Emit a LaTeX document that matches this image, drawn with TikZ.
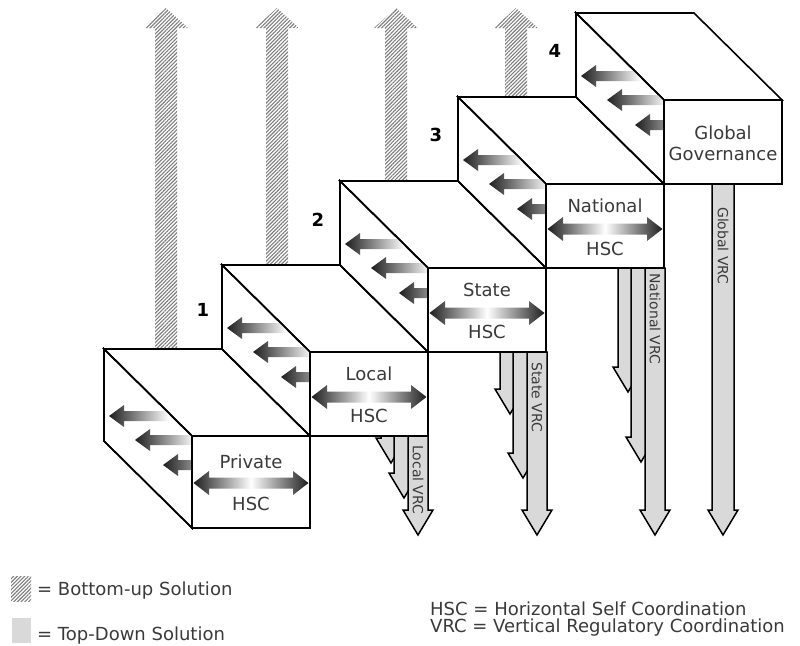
\documentclass[tikz,border=0pt]{standalone}
\usepackage{fontspec}
\setmainfont{DejaVu Sans}
\usetikzlibrary{patterns.meta}
\definecolor{vrcfill}{RGB}{217,217,217}
\definecolor{labelgray}{RGB}{58,58,58}
\definecolor{hatchgray}{RGB}{125,125,125}
\begin{document}
\begin{tikzpicture}[x=1pt,y=-1pt,line join=miter]
\tikzset{
 boxface/.style={fill=white,draw=black,line width=1.6pt},
 boxline/.style={draw=black,line width=1.6pt},
 hatcharrow/.style={pattern={Lines[angle=45,distance=2.6pt,line width=1.1pt]},pattern color=hatchgray},
 vrcarrow/.style={fill=vrcfill,draw=black,line width=1.5pt},
 sidearrow/.style={left color=black!88,right color=white},
 hscarrow/.style={left color=black!88,right color=black!88,middle color=white},
 lbl/.style={font=\fontsize{18}{20}\selectfont,text=labelgray,inner sep=0pt},
 vrclbl/.style={font=\fontsize{14}{16}\selectfont,text=labelgray,rotate=-90,anchor=west,inner sep=0pt},
 num/.style={font=\fontsize{18}{20}\selectfont\bfseries,inner sep=0pt},
 legend/.style={font=\fontsize{18}{20}\selectfont,text=labelgray,anchor=base west,inner sep=0pt},
}
\useasboundingbox (0,0) rectangle (800,645);

% bottom-up hatched arrows
\foreach \cx/\by in {166/349,277/265,396/181,516/97}{
 \path[hatcharrow] (\cx-11,\by) -- (\cx-11,28) -- (\cx-22,28) -- (\cx,8) -- (\cx+22,28) -- (\cx+11,28) -- (\cx+11,\by) -- cycle;
}

% top-down VRC arrows
\newcommand\vrcarr[3]{%
 \filldraw[vrcarrow] (#1-10,#2) -- (#1+10,#2) -- (#1+10,#3-25) -- (#1+15,#3-25) -- (#1,#3) -- (#1-15,#3-25) -- (#1-10,#3-25) -- cycle;}
\vrcarr{391}{436}{463}
\vrcarr{404}{436}{498}
\vrcarr{418}{436}{535}
\vrcarr{510}{352}{414}
\vrcarr{523}{352}{478}
\vrcarr{537}{352}{535}
\vrcarr{628}{268}{392}
\vrcarr{641}{268}{462}
\vrcarr{655}{268}{535}
\filldraw[vrcarrow] (712,184) -- (734,184) -- (734,510) -- (738,510) -- (723,535) -- (708,510) -- (712,510) -- cycle;

% boxes
\foreach \i/\h in {0/92,1/84,2/84,3/84,4/84}{
 \pgfmathsetmacro\fx{192+118*\i}
 \pgfmathsetmacro\fy{436-84*\i}
 \coordinate (f\i) at (\fx,\fy);
 \filldraw[boxface] (f\i) -- ++(118,0) -- ++(-88,-87) -- ++(-118,0) -- cycle;
 \filldraw[boxface] (f\i) -- ++(-88,-87) -- ++(0,\h) -- ++(88,87) -- cycle;
 \filldraw[boxface] (f\i) rectangle ++(118,\h);
 \begin{scope}
  \clip (f\i) -- ++(-88,-87) -- ++(0,\h) -- ++(88,87) -- cycle;
  \foreach \dx/\dy in {-83/-66,-57/-42,-29/-17}{
   \pgfmathsetmacro\tx{\fx+\dx}
   \pgfmathsetmacro\ty{\fy+\h/2+\dy}
   \shade[sidearrow] (\tx,\ty) -- ++(15,-11) -- ++(0,6) -- ++(45,0) -- ++(0,10) -- ++(-45,0) -- ++(0,6) -- cycle;
  }
 \end{scope}
 \draw[boxline] (f\i) -- ++(-88,-87) -- ++(0,\h) -- ++(88,87) -- cycle;
}

% horizontal HSC arrows
\foreach \fx/\ay in {192/483,310/397,428/313,546/229}{
 \shade[hscarrow] (\fx+1.5,\ay) -- (\fx+17,\ay-12) -- (\fx+17,\ay-5.5) -- (\fx+101,\ay-5.5) -- (\fx+101,\ay-12) -- (\fx+116.5,\ay) -- (\fx+101,\ay+12) -- (\fx+101,\ay+5.5) -- (\fx+17,\ay+5.5) -- (\fx+17,\ay+12) -- cycle;
}

% front labels
\node[lbl] (tPrivate) at (251,462) {Private};
\node[lbl] (hPrivate) at (251,504) {HSC};
\node[lbl] (tLocal) at (369,374) {Local};
\node[lbl] (hLocal) at (369,416) {HSC};
\node[lbl] (tState) at (487,290) {State};
\node[lbl] (hState) at (487,332) {HSC};
\node[lbl] (tNational) at (605,206) {National};
\node[lbl] (hNational) at (605,249) {HSC};
\node[lbl] (tGlobal) at (723,133) {Global};
\node[lbl] (tGov) at (723,154) {Governance};

% VRC labels
\node[vrclbl] (vLocal) at (418,445) {Local VRC};
\node[vrclbl] (vState) at (537,362) {State VRC};
\node[vrclbl] (vNational) at (655,273) {National VRC};
\node[vrclbl] (vGlobal) at (723,207) {Global VRC};

% level numbers
\node[num] (n1) at (203,310) {1};
\node[num] (n2) at (318,220) {2};
\node[num] (n3) at (436,135) {3};
\node[num] (n4) at (555,51) {4};

% legend
\path[hatcharrow] (11,576) rectangle (31,601);
\node[legend] (legBU) at (37,595) {= Bottom-up Solution};
\fill[vrcfill] (12,618) rectangle (31,643);
\node[legend] (legTD) at (37,640) {= Top-Down Solution};
\node[font=\fontsize{18}{16.5}\selectfont,text=labelgray,anchor=north west,align=left,inner sep=0pt] (legAbbr) at (430,602) {HSC = Horizontal Self Coordination\\VRC = Vertical Regulatory Coordination};
\end{tikzpicture}
\end{document}
